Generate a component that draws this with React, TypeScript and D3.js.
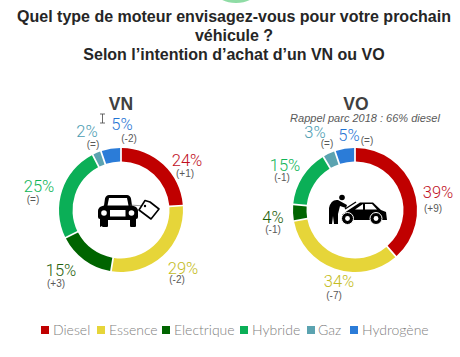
import React from "react";
import * as d3 from "d3";

const categories = ["Diesel", "Essence", "Electrique", "Hybride", "Gaz", "Hydrogène"];
const colors = ["#c00000", "#e6d539", "#006400", "#0baf57", "#5ba3b0", "#2b7cd8"];
const labelColors = ["#c00f1e", "#c4bc22", "#1f5f0c", "#0fb557", "#4c9cb2", "#1f74d4"];
const vnValues = [24, 29, 15, 25, 2, 5];
const voValues = [39, 34, 4, 15, 3, 5];
const vnDeltas = ["(+1)", "(-2)", "(+3)", "(=)", "(=)", "(-2)"];
const voDeltas = ["(+9)", "(-7)", "(-1)", "(-1)", "(=)", "(=)"];
const titleLines = ["Quel type de moteur envisagez-vous pour votre prochain", "véhicule ?", "Selon l’intention d’achat d’un VN ou VO"];
// label anchors: [pct x, pct y, delta x, delta y]
const vnLabelPos = [[187, 166, 185, 177], [183, 274, 177, 283], [61, 276, 56, 287], [39, 192, 33, 203], [87, 137, 93, 148], [122, 130, 129, 142]];
const voLabelPos = [[438, 198, 433, 212], [339, 287, 334, 299], [273, 223, 273, 233], [285, 171, 282, 181], [315, 138, 327, 147], [349, 141, 367, 144]];
const legendX = [41, 97, 162, 240, 307, 350];
const legendTextX = [53, 109, 174, 252, 318, 362];

const FONT = "'Liberation Sans', Arial, sans-serif";
const LIGHT = "Roboto, 'Liberation Sans', sans-serif";

function Donut({ cx, cy, values, deltas, pos }: { cx: number; cy: number; values: number[]; deltas: string[]; pos: number[][] }) {
  const pie = d3.pie<number>().sort(null).padAngle(0.022)(values);
  const arc = d3.arc<d3.PieArcDatum<number>>().innerRadius(48.5).outerRadius(62);
  return (
    <g>
      <g transform={`translate(${cx},${cy})`}>
        {pie.map((d, i) => <path key={i} d={arc(d) || ""} fill={colors[i]} />)}
      </g>
      {values.map((v, i) => (
        <g key={i} textAnchor="middle">
          <text x={pos[i][0]} y={pos[i][1]} fontFamily={LIGHT} fontSize={16.5} fontWeight={300} fill={labelColors[i]}>{v}%</text>
          <text x={pos[i][2]} y={pos[i][3]} fontFamily={FONT} fontSize={10} fill="#595959">{deltas[i]}</text>
        </g>
      ))}
    </g>
  );
}

function CarTag() {
  return (
    <g>
      <path d="M100 227 q-0 0 0 0 v-8 q-2 0 -2 -2 v-6 q0 -3 3 -4.5 l3 -1 l1 -7 q1 -3.5 4 -3.5 h18 q3 0 4 3.5 l1 7 l3 1 q3 1.5 3 4.5 v6 q0 2 -2 2 v7 q0 1 -1 1 h-4 q-1 0 -1 -1 v-6 h-22 v6 q0 1 -1 1 h-4 q-1 0 -1 -1 z" fill="#000" />
      <path d="M109 198 h18 l1.5 7.5 h-21 z" fill="#fff" />
      <circle cx={104} cy={213} r={2.8} fill="#fff" />
      <circle cx={131.5} cy={213} r={2.8} fill="#fff" />
      <rect x={110} y={210} width={15.5} height={6.5} fill="#fff" />
      <path d="M130 205 L145 206" stroke="#555" strokeWidth={0.6} fill="none" />
      <path d="M139 210 L145 200.5 L150 202 L159 209 L151 219 Z" fill="#fff" stroke="#000" strokeWidth={1.6} strokeLinejoin="round" />
      <circle cx={145} cy={206} r={1.2} fill="#000" />
    </g>
  );
}

function CarMech() {
  return (
    <g>
      <circle cx={342} cy={197.5} r={2.8} fill="#000" />
      <path d="M329 208 Q331 199 338 200 L347 205 L346 208 L340 206 L338 214 L338 224 L334 224 L333 216 L332 224 L329 224 Z" fill="#000" />
      <path d="M347 211 L360 202.5 L373 202.5 L381 210 L386 212 L387 220 L346 220 L342 215 Z" fill="#000" />
      <path d="M355 209.5 L363 204 L363 209.5 Z M365 204 L372 204 L377 209.5 L365 209.5 Z" fill="#fff" />
      <path d="M345 209 L356 202" stroke="#000" strokeWidth={1.4} />
      <circle cx={347.5} cy={218.5} r={6} fill="#000" stroke="#fff" strokeWidth={1} />
      <circle cx={347.5} cy={218.5} r={2.4} fill="#fff" />
      <circle cx={376} cy={218.5} r={6} fill="#000" stroke="#fff" strokeWidth={1} />
      <circle cx={376} cy={218.5} r={2.4} fill="#fff" />
    </g>
  );
}

export default function App() {
  return (
    <svg width={460} height={357} style={{ position: "absolute", left: 0, top: 0, background: "#fff" }}>
      <ellipse cx={236} cy={-8} rx={20} ry={11} fill="#8fdca5" />
      <g fontFamily={FONT} fontWeight={700} fontSize={16} fill="#262626" textAnchor="middle">
        <text x={234} y={22}>{titleLines[0]}</text>
        <text x={234} y={41}>{titleLines[1]}</text>
        <text x={234} y={60}>{titleLines[2]}</text>
      </g>
      <g fontFamily={FONT} fontWeight={700} fontSize={17.5} fill="#404040" textAnchor="middle">
        <text x={121} y={110}>VN</text>
        <text x={356} y={110}>VO</text>
      </g>
      <text x={365} y={122} fontFamily={FONT} fontStyle="italic" fontSize={11} fill="#595959" textAnchor="middle">Rappel parc 2018 : 66% diesel</text>
      <path d="M100 114 h5 M102.5 114 v9 M100 123 h5" stroke="#444" strokeWidth={0.8} fill="none" />
      <Donut cx={121} cy={210} values={vnValues} deltas={vnDeltas} pos={vnLabelPos} />
      <Donut cx={355} cy={210} values={voValues} deltas={voDeltas} pos={voLabelPos} />
      <CarTag />
      <CarMech />
      {categories.map((c, i) => (
        <g key={c}>
          <rect x={legendX[i]} y={326} width={8} height={8} fill={colors[i]} />
          <text x={legendTextX[i]} y={335} fontFamily="Lato, sans-serif" fontWeight={300} fontSize={14} fill="#808080">{c}</text>
        </g>
      ))}
    </svg>
  );
}
